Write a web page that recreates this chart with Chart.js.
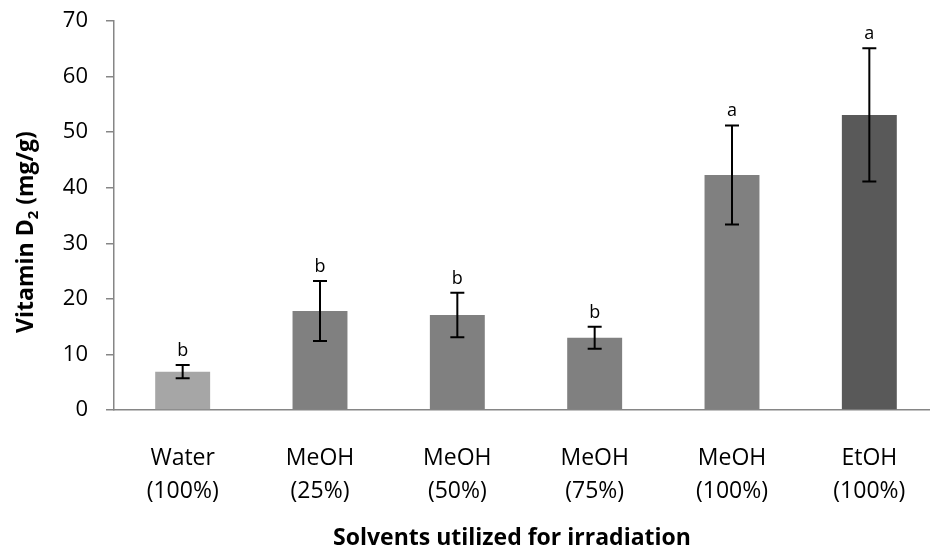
<!DOCTYPE html>
<html>
<head>
<meta charset="utf-8">
<script src="https://cdn.jsdelivr.net/npm/chart.js@4.4.1/dist/chart.umd.min.js"></script>
<style>
  html, body { margin: 0; padding: 0; background: #fff; overflow: hidden; }
  #wrap { position: relative; width: 940px; height: 558px; }
</style>
</head>
<body>
<div id="wrap"><canvas id="chart"></canvas></div>
<script>
// data
const solvents = [
  ['Water', '(100%)'],
  ['MeOH', '(25%)'],
  ['MeOH', '(50%)'],
  ['MeOH', '(75%)'],
  ['MeOH', '(100%)'],
  ['EtOH', '(100%)'],
];
const vitaminD2 = [6.9, 17.8, 17.1, 13.0, 42.3, 53.1];
const stdDev = [1.2, 5.4, 4.0, 2.0, 8.9, 12.0];
const groupLetters = ['b', 'b', 'b', 'b', 'a', 'a'];
const yMin = 0;
const yMax = 70;
const yStep = 10;

const FONT = "'Open Sans', 'Noto Sans', sans-serif";
const barColors = ['#a6a6a6', '#808080', '#808080', '#808080', '#808080', '#595959'];
const axisColor = '#868686';

// error bars + significance letters
const errorBars = {
  id: 'errorBars',
  afterDatasetsDraw(chart) {
    const ctx = chart.ctx;
    const y = chart.scales.y;
    const meta = chart.getDatasetMeta(0);
    ctx.save();
    ctx.strokeStyle = '#000';
    ctx.lineWidth = 2;
    ctx.fillStyle = '#000';
    ctx.font = '18px ' + FONT;
    ctx.textAlign = 'center';
    ctx.textBaseline = 'alphabetic';
    meta.data.forEach((bar, i) => {
      const top = y.getPixelForValue(vitaminD2[i] + stdDev[i]);
      const bot = y.getPixelForValue(vitaminD2[i] - stdDev[i]);
      const cap = 7;
      ctx.beginPath();
      ctx.moveTo(bar.x, top);
      ctx.lineTo(bar.x, bot);
      ctx.moveTo(bar.x - cap, top);
      ctx.lineTo(bar.x + cap, top);
      ctx.moveTo(bar.x - cap, bot);
      ctx.lineTo(bar.x + cap, bot);
      ctx.stroke();
      ctx.fillText(groupLetters[i], bar.x, top - 9);
    });
    ctx.restore();
  }
};

// axis titles (y title needs a subscript)
const axisTitles = {
  id: 'axisTitles',
  afterDraw(chart) {
    const ctx = chart.ctx;
    ctx.save();
    ctx.fillStyle = '#000';
    ctx.font = 'bold 23px ' + FONT;
    ctx.textAlign = 'center';
    ctx.textBaseline = 'middle';
    ctx.fillText('Solvents utilized for irradiation', 512, 538);

    ctx.translate(26, 232);
    ctx.rotate(-Math.PI / 2);
    ctx.textAlign = 'left';
    ctx.textBaseline = 'alphabetic';
    const big = 'bold 23px ' + FONT;
    const small = 'bold 15px ' + FONT;
    ctx.font = big;
    const w1 = ctx.measureText('Vitamin D').width;
    const w3 = ctx.measureText(' (mg/g)').width;
    ctx.font = small;
    const w2 = ctx.measureText('2').width;
    let x = -(w1 + w2 + w3) / 2;
    ctx.font = big;
    ctx.fillText('Vitamin D', x, 7);
    ctx.font = small;
    ctx.fillText('2', x + w1, 12);
    ctx.font = big;
    ctx.fillText(' (mg/g)', x + w1 + w2, 7);
    ctx.restore();
  }
};

new Chart(document.getElementById('chart'), {
  type: 'bar',
  data: {
    labels: solvents,
    datasets: [{
      data: vitaminD2,
      backgroundColor: barColors,
      borderWidth: 0,
      barPercentage: 0.4,
      categoryPercentage: 1,
    }]
  },
  options: {
    responsive: true,
    maintainAspectRatio: false,
    animation: false,
    layout: { padding: { top: 21, right: 2, bottom: 0, left: 0 } },
    plugins: {
      legend: { display: false },
      tooltip: { enabled: false },
    },
    scales: {
      x: {
        grid: { display: false },
        border: { display: true, color: axisColor, width: 1.5 },
        ticks: {
          color: '#000',
          font: { family: FONT, size: 23, lineHeight: 1.43 },
          padding: 24,
          maxRotation: 0,
        },
        afterFit(scale) { scale.height = 148; },
      },
      y: {
        min: yMin,
        max: yMax,
        grid: { drawOnChartArea: false, drawTicks: true, tickLength: 8, color: axisColor, lineWidth: 1.5 },
        border: { display: true, color: axisColor, width: 1.5 },
        ticks: {
          stepSize: yStep,
          color: '#000',
          font: { family: FONT, size: 22 },
          padding: 18,
        },
        afterFit(scale) {
          scale.width = 114;
          scale.paddingTop = 0;
          scale.paddingBottom = 0;
        },
      }
    }
  },
  plugins: [errorBars, axisTitles]
});
</script>
</body>
</html>
